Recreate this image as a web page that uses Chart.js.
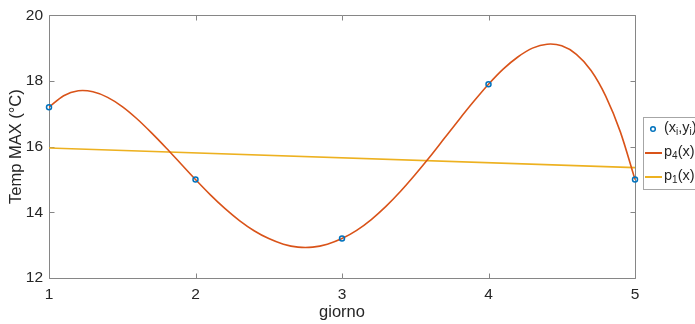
<!DOCTYPE html>
<html>
<head>
<meta charset="utf-8">
<script src="https://cdn.jsdelivr.net/npm/chart.js@4"></script>
<style>
body { margin: 0; background: #fff; }
#wrap { width: 695px; height: 324px; position: relative; }
</style>
</head>
<body>
<div id="wrap"><canvas id="myChart"></canvas></div>
<script>
// measured points
const giorni = [1, 2, 3, 4, 5];
const tempMax = [17.2, 15.0, 13.2, 17.9, 15.0];

// p4(x) curve, every 0.1
const p4x = [1.0, 1.1, 1.2, 1.3, 1.4, 1.5, 1.6, 1.7, 1.8, 1.9,
             2.0, 2.1, 2.2, 2.3, 2.4, 2.5, 2.6, 2.7, 2.8, 2.9,
             3.0, 3.1, 3.2, 3.3, 3.4, 3.5, 3.6, 3.7, 3.8, 3.9,
             4.0, 4.1, 4.2, 4.3, 4.4, 4.5, 4.6, 4.7, 4.8, 4.9, 5.0];
const p4y = [17.2, 17.55, 17.70, 17.67, 17.50, 17.22, 16.85, 16.42, 15.96, 15.48,
             15.0, 14.54, 14.12, 13.75, 13.44, 13.20, 13.03, 12.94, 12.94, 13.03,
             13.2, 13.45, 13.78, 14.18, 14.64, 15.15, 15.69, 16.26, 16.83, 17.38,
             17.9, 18.36, 18.73, 19.00, 19.12, 19.07, 18.81, 18.32, 17.54, 16.45, 15.0];

// p1(x) straight line
const p1x = [1, 5];
const p1y = [15.96, 15.36];

const xTicks = [1, 2, 3, 4, 5];
const yTicks = [12, 14, 16, 18, 20];

const axisCol = '#868686';
const textCol = '#262626';
const fontFam = '"Liberation Sans", Arial, sans-serif';

const pts = (xs, ys) => xs.map((x, i) => ({ x: x, y: ys[i] }));

// box with inward ticks, like matlab
const boxPlugin = {
    id: 'box',
    beforeDatasetsDraw(chart) {
        const c = chart.ctx, a = chart.chartArea;
        const xs = chart.scales.x, ys = chart.scales.y;
        const L = Math.round(a.left) + 0.5, R = Math.round(a.right) + 0.5;
        const T = Math.round(a.top) + 0.5, B = Math.round(a.bottom) + 0.5;
        c.save();
        c.strokeStyle = axisCol;
        c.lineWidth = 1;
        c.beginPath();
        c.rect(L, T, R - L, B - T);
        xTicks.forEach(v => {
            const px = Math.round(xs.getPixelForValue(v)) + 0.5;
            c.moveTo(px, B); c.lineTo(px, B - 5);
            c.moveTo(px, T); c.lineTo(px, T + 5);
        });
        yTicks.forEach(v => {
            const py = Math.round(ys.getPixelForValue(v)) + 0.5;
            c.moveTo(L, py); c.lineTo(L + 5, py);
            c.moveTo(R, py); c.lineTo(R - 5, py);
        });
        c.stroke();
        c.restore();
    }
};

// legend drawn by hand because of the subscripts
function subText(c, parts, x, y) {
    parts.forEach(p => {
        if (p.sub) {
            c.font = '10px ' + fontFam;
            c.fillText(p.t, x, y + 4);
            x += c.measureText(p.t).width;
        } else {
            c.font = '14.5px ' + fontFam;
            c.fillText(p.t, x, y);
            x += c.measureText(p.t).width;
        }
    });
}

const legendPlugin = {
    id: 'matLegend',
    afterDraw(chart) {
        const c = chart.ctx;
        c.save();
        c.fillStyle = '#fff';
        c.fillRect(643, 117, 60, 72);
        c.strokeStyle = '#a6a6a6';
        c.lineWidth = 1;
        c.strokeRect(643.5, 117.5, 60, 72);

        c.strokeStyle = '#0072BD';
        c.lineWidth = 1.5;
        c.beginPath();
        c.arc(653, 129, 2.3, 0, Math.PI * 2);
        c.stroke();

        c.lineWidth = 2;
        c.strokeStyle = '#D95319';
        c.beginPath(); c.moveTo(645, 153); c.lineTo(662, 153); c.stroke();
        c.strokeStyle = '#EDB120';
        c.beginPath(); c.moveTo(645, 177); c.lineTo(662, 177); c.stroke();

        c.fillStyle = textCol;
        c.textBaseline = 'middle';
        subText(c, [{ t: '(x' }, { t: 'i', sub: true }, { t: ',y' }, { t: 'i', sub: true }, { t: ')' }], 664, 128);
        subText(c, [{ t: 'p' }, { t: '4', sub: true }, { t: '(x)' }], 664, 152);
        subText(c, [{ t: 'p' }, { t: '1', sub: true }, { t: '(x)' }], 664, 176);
        c.restore();
    }
};

new Chart(document.getElementById('myChart'), {
    type: 'scatter',
    data: {
        datasets: [{
            label: '(xi,yi)',
            data: pts(giorni, tempMax),
            borderColor: '#0072BD',
            backgroundColor: 'rgba(0,0,0,0)',
            borderWidth: 1.5,
            pointRadius: 2.5,
            showLine: false,
            clip: false
        },
        {
            label: 'p4(x)',
            data: pts(p4x, p4y),
            borderColor: '#D95319',
            borderWidth: 1.6,
            pointRadius: 0,
            showLine: true,
            tension: 0.3
        },
        {
            label: 'p1(x)',
            data: pts(p1x, p1y),
            borderColor: '#EDB120',
            borderWidth: 1.6,
            pointRadius: 0,
            showLine: true
        }]
    },
    options: {
        responsive: true,
        maintainAspectRatio: false,
        animation: false,
        layout: { padding: { top: 12, right: 60, left: 0, bottom: 0 } },
        plugins: {
            legend: { display: false },
            tooltip: { enabled: false }
        },
        scales: {
            x: {
                type: 'linear',
                min: 1,
                max: 5,
                afterBuildTicks: s => { s.ticks = xTicks.map(v => ({ value: v })); },
                afterFit: s => { s.height = 46; },
                grid: { display: false, drawTicks: false, tickLength: 0 },
                border: { display: false },
                ticks: { color: textCol, font: { size: 15.5, family: fontFam }, padding: 7, maxRotation: 0 },
                title: { display: true, text: 'giorno', color: textCol, font: { size: 16.5, family: fontFam }, padding: { top: 0, bottom: 2 } }
            },
            y: {
                min: 12,
                max: 20,
                afterBuildTicks: s => { s.ticks = yTicks.map(v => ({ value: v })); },
                afterFit: s => { s.width = 49; },
                grid: { display: false, drawTicks: false, tickLength: 0 },
                border: { display: false },
                ticks: { color: textCol, font: { size: 15.5, family: fontFam }, padding: 6 },
                title: { display: true, text: 'Temp MAX (°C)', color: textCol, font: { size: 16.5, family: fontFam }, padding: { top: 7, bottom: 0 } }
            }
        }
    },
    plugins: [boxPlugin, legendPlugin]
});
</script>
</body>
</html>
